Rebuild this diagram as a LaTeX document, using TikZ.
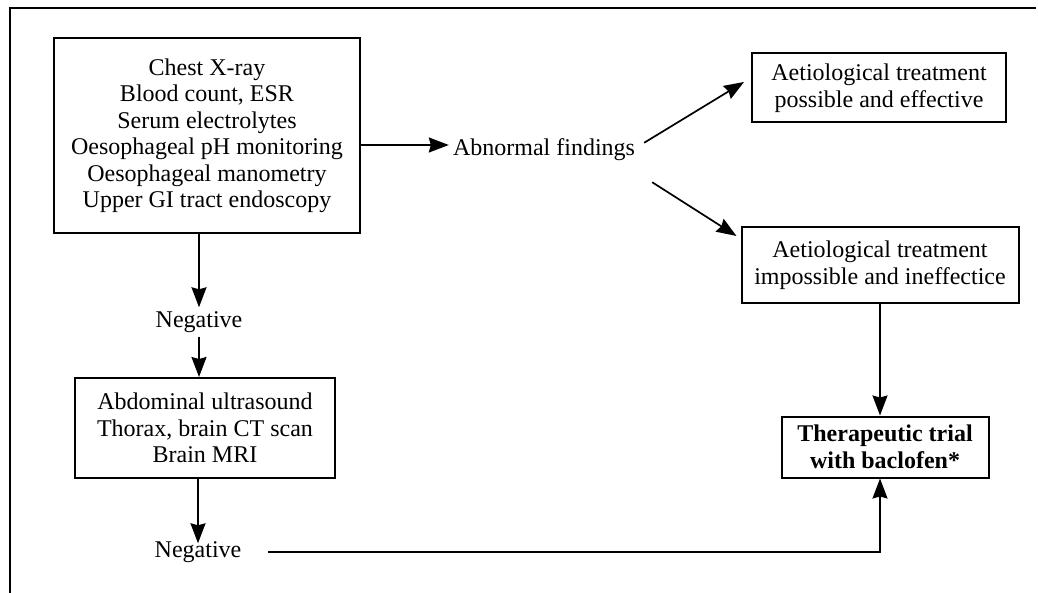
\documentclass[tikz,border=0pt]{standalone}
\usepackage{fontspec}
\setmainfont{Liberation Serif}
\usetikzlibrary{arrows.meta,calc,positioning}

\begin{document}
\begin{tikzpicture}[>={Stealth[length=20pt,width=15pt,inset=2pt]},x=1pt,y=-1pt,line width=1.7pt,
    font=\fontsize{24}{26.5}\selectfont]
        \useasboundingbox (0,0) rectangle (1038,593);
        % Frame
        \draw[line width=1.2pt] (10,593) -- (10,8) -- (1036,8);
        % Nodes
        \node(tests) at (207,136)[rectangle,draw,line width=2pt,text centered,align=center,minimum width=306pt,minimum height=195pt] {Chest X-ray\\Blood count, ESR\\Serum electrolytes\\Oesophageal pH monitoring\\Oesophageal manometry\\Upper GI tract endoscopy};
        \node(abnormal) at (544,150) {Abnormal findings};
        \node(possible) at (879,88)[rectangle,draw,line width=2pt,text centered,align=center,minimum width=254pt,minimum height=69pt] {Aetiological treatment\\possible and effective};
        \node(impossible) at (880,265)[rectangle,draw,line width=2pt,text centered,align=center,minimum width=277pt,minimum height=76pt] {Aetiological treatment\\impossible and ineffectice};
        \node(negative1) at (199,322) {Negative};
        \node(imaging) at (205,428)[rectangle,draw,line width=2pt,text centered,align=center,minimum width=260pt,minimum height=100pt] {Abdominal ultrasound\\Thorax, brain CT scan\\Brain MRI};
        \node(negative2) at (198,552) {Negative};
        \node(baclofen) at (885,447)[rectangle,draw,line width=2pt,text centered,align=center,minimum width=207pt,minimum height=61pt,font=\fontsize{24}{26.5}\selectfont\bfseries] {Therapeutic trial\\with baclofen*};
        % Links
        \draw[->] (tests.east |- 0,145) -- (abnormal.west |- 0,145);
        \draw[->] ([shift={(5,8)}]abnormal.north east) -- ([shift={(-7,-6)}]possible.west);
        \draw[->] ([shift={(13,17)}]abnormal.south east) -- ([shift={(-4,10)}]impossible.north west);
        \draw[->] (tests.south -| negative1) -- (negative1.north);
        \draw[->] (negative1.south) -- (imaging.north -| negative1);
        \draw[->] (imaging.south -| negative2) -- ([yshift=-6pt]negative2.north);
        \draw[->] ([xshift=23]negative2.east) -| (baclofen.south -| impossible.south);
        \draw[->] (impossible.south) -- (baclofen.north -| impossible.south);
\end{tikzpicture}
\end{document}
